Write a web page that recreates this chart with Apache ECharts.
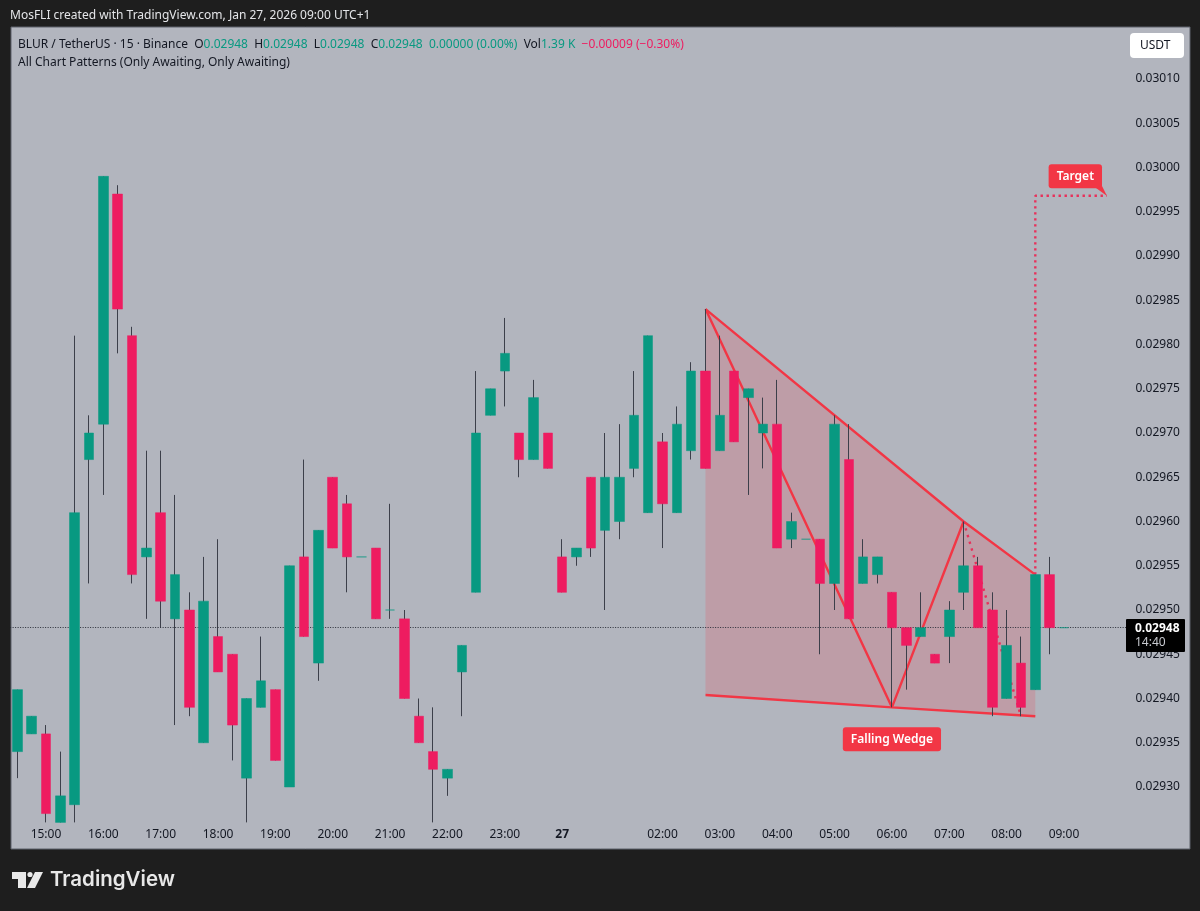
<!DOCTYPE html>
<html>
<head>
<meta charset="utf-8">
<style>html,body{margin:0;padding:0;background:#1e1e1e}#c{width:1200px;height:911px}</style>
<script src="https://cdn.jsdelivr.net/npm/echarts@6/dist/echarts.min.js"></script>
</head>
<body>
<div id="c"></div>
<script>
const categories = ['14:30','14:45','15:00','15:15','15:30','15:45','16:00','16:15','16:30','16:45','17:00','17:15','17:30','17:45','18:00','18:15','18:30','18:45','19:00','19:15','19:30','19:45','20:00','20:15','20:30','20:45','21:00','21:15','21:30','21:45','22:00','22:15','22:30','22:45','23:00','23:15','23:30','23:45','00:00','00:15','00:30','00:45','01:00','01:15','01:30','02:00','02:15','02:30','02:45','03:00','03:15','03:30','03:45','04:00','04:15','04:30','04:45','05:00','05:15','05:30','05:45','06:00','06:15','06:30','06:45','07:00','07:15','07:30','07:45','08:00','08:15','08:30','08:45','09:00','09:15','09:30','09:45','10:00'];
const tickTimes = ['15:00','16:00','17:00','18:00','19:00','20:00','21:00','22:00','23:00','00:00','02:00','03:00','04:00','05:00','06:00','07:00','08:00','09:00'];
const opens = [0.02934,0.02936,0.02936,0.02926,0.02928,0.02967,0.02971,0.02997,0.02981,0.02956,0.02961,0.02949,0.0295,0.02935,0.02947,0.02945,0.02931,0.02939,0.02941,0.0293,0.02956,0.02944,0.02965,0.02962,0.02956,0.02957,0.0295,0.02949,0.02938,0.02934,0.02931,0.02943,0.02952,0.02972,0.02977,0.0297,0.02967,0.0297,0.02956,0.02956,0.02965,0.02959,0.0296,0.02966,0.02961,0.02969,0.02961,0.02968,0.02977,0.02968,0.02977,0.02974,0.0297,0.02971,0.02958,0.02958,0.02958,0.02953,0.02967,0.02953,0.02954,0.02952,0.02948,0.02947,0.02945,0.02947,0.02952,0.02955,0.0295,0.0294,0.02944,0.02941,0.02954,0.02948];
const closes = [0.02941,0.02938,0.02927,0.02929,0.02961,0.0297,0.02999,0.02984,0.02954,0.02957,0.02951,0.02954,0.02939,0.02951,0.02943,0.02937,0.0294,0.02942,0.02933,0.02955,0.02947,0.02959,0.02957,0.02956,0.02956,0.02949,0.0295,0.0294,0.02935,0.02932,0.02932,0.02946,0.0297,0.02975,0.02979,0.02967,0.02974,0.02966,0.02952,0.02957,0.02957,0.02965,0.02965,0.02972,0.02981,0.02962,0.02971,0.02977,0.02966,0.02972,0.02969,0.02975,0.02971,0.02957,0.0296,0.02958,0.02953,0.02971,0.02949,0.02956,0.02956,0.02948,0.02946,0.02948,0.02944,0.0295,0.02955,0.02948,0.02939,0.02946,0.02939,0.02954,0.02948,0.02948];
const highs = [0.02941,0.02938,0.02937,0.02934,0.02981,0.02972,0.02999,0.02998,0.02982,0.02968,0.02968,0.02963,0.02952,0.02956,0.02958,0.02945,0.0294,0.02947,0.02941,0.02955,0.02967,0.02959,0.02965,0.02963,0.02956,0.02957,0.02962,0.0295,0.0294,0.02939,0.02932,0.02946,0.02977,0.02975,0.02983,0.0297,0.02976,0.0297,0.02958,0.02957,0.02965,0.0297,0.02971,0.02977,0.02981,0.0297,0.02973,0.02978,0.02984,0.02981,0.02977,0.02975,0.02974,0.02976,0.02961,0.02958,0.02958,0.02972,0.02971,0.02958,0.02956,0.02952,0.02948,0.02952,0.02945,0.02951,0.0296,0.02956,0.02952,0.0295,0.02947,0.02954,0.02956,0.02948];
const lows = [0.02931,0.02936,0.02926,0.02926,0.02926,0.02953,0.02963,0.02979,0.02953,0.02949,0.02948,0.02937,0.02938,0.02935,0.02943,0.02933,0.02926,0.02939,0.02933,0.0293,0.02947,0.02942,0.02957,0.02952,0.02956,0.02949,0.02949,0.0294,0.02935,0.02926,0.02929,0.02938,0.02952,0.02972,0.02973,0.02965,0.02967,0.02966,0.02952,0.02955,0.02956,0.0295,0.02958,0.02965,0.02961,0.02957,0.02961,0.02967,0.02966,0.02968,0.02969,0.02963,0.02966,0.02957,0.02957,0.02958,0.02945,0.0295,0.02949,0.02953,0.02953,0.02939,0.02941,0.02947,0.02944,0.02944,0.0295,0.02948,0.02938,0.0294,0.02938,0.02941,0.02945,0.02948];
const lastPrice = 0.02948;
const wedgeX = [48,66,71,71,61,48];
const wedgeY = [0.02984,0.0296,0.02954,0.02938,0.02939,0.029404];
const zigzagX = [48,61,66];
const zigzagY = [0.02984,0.02939,0.0296];
const projectionX = [66,70];
const projectionY = [0.0296,0.02938];
const targetX = [71,71,76];
const targetY = [0.02954,0.029968,0.029968];
const labelTexts = ['Falling Wedge','Target'];
const labelX = [61,74];
const labelY = [0.029354,0.02999];

const font = '"Noto Sans", sans-serif';
const green = '#089981', pink = '#ee1c60', red = '#f23645', ink = '#131722';
const zip = (a,b)=>a.map((v,i)=>[v,b[i]]);
const chart = echarts.init(document.getElementById('c'), null, {renderer:'canvas'});
const hexT = (t,x,y,o)=>({type:'text',z:o.z||50,style:Object.assign({x,y,text:t,fontFamily:font,fontSize:12,fill:ink,textVerticalAlign:'middle'},o)});
chart.setOption({
  animation:false,
  backgroundColor:'#1e1e1e',
  textStyle:{fontFamily:font},
  grid:{left:10.13,right:71.5,top:34.75,height:796.5,containLabel:false},
  xAxis:{type:'category',data:categories,boundaryGap:true,
    axisLine:{show:false},axisTick:{show:false},splitLine:{show:false},
    axisLabel:{interval:(i,v)=>tickTimes.includes(v),margin:-3,color:ink,fontSize:12,fontFamily:font,hideOverlap:false,
      formatter:v=>v==='00:00'?'{d|27}':v,rich:{d:{fontWeight:'bold',fontSize:12,color:ink,fontFamily:font}}}},
  yAxis:{type:'value',position:'right',min:0.02925,max:0.03015,interval:0.00005,scale:true,
    axisLine:{show:false},axisTick:{show:false},splitLine:{show:false},
    axisLabel:{margin:7,padding:[2,0,0,0],color:ink,fontSize:12,fontFamily:font,showMinLabel:false,showMaxLabel:false,formatter:v=>v.toFixed(5)}},
  series:[
    {type:'custom',name:'wedge',coordinateSystem:'cartesian2d',z:2,silent:true,clip:false,
      data:[wedgeX.map((x,i)=>i)],encode:{x:[],y:[]},
      renderItem:(p,api)=>({type:'polygon',shape:{points:wedgeX.filter((x,i)=>i!==4).map((x,i)=>{const j=i<4?i:5;return api.coord([wedgeX[j],wedgeY[j]]);})},style:{fill:'rgba(242,54,69,0.19)'}})},
    {type:'line',name:'top',z:3,silent:true,symbol:'none',data:[[wedgeX[0],wedgeY[0]],[wedgeX[1],wedgeY[1]],[wedgeX[2],wedgeY[2]]],lineStyle:{color:red,width:2.4}},
    {type:'line',name:'bottom',z:3,silent:true,symbol:'none',data:[[wedgeX[5],wedgeY[5]],[wedgeX[4],wedgeY[4]],[wedgeX[3],wedgeY[3]]],lineStyle:{color:red,width:2.4}},
    {type:'line',name:'zigzag',z:3,silent:true,symbol:'none',data:zip(zigzagX,zigzagY),lineStyle:{color:red,width:2.4}},
    {type:'line',name:'projection',z:3,silent:true,symbol:'none',data:zip(projectionX,projectionY),lineStyle:{color:'#e8305a',width:2.4,type:[2.4,4.6]}},
    {type:'line',name:'target',z:3,silent:true,symbol:'none',data:zip(targetX,targetY),lineStyle:{color:'#e8305a',width:2.4,type:[2.4,3.6]}},
    {type:'candlestick',name:'wicks',z:4,silent:true,barWidth:1,
      data:opens.map((o,i)=>[o,closes[i],lows[i],highs[i]]),
      itemStyle:{color:'#3c3f4a',color0:'#3c3f4a',borderColor:'#3c3f4a',borderColor0:'#3c3f4a',borderColorDoji:'#3c3f4a',borderWidth:1},
      markLine:{silent:true,symbol:'none',precision:5,animation:false,data:[{yAxis:lastPrice}],label:{show:false},lineStyle:{color:'#2a2e39',width:1,type:[1,1.5]}}},
    {type:'candlestick',name:'bodies',z:5,silent:true,barWidth:10,
      data:opens.map((o,i)=>[o,closes[i],Math.min(o,closes[i]),Math.max(o,closes[i])]),
      itemStyle:{color:green,color0:pink,borderColor:green,borderColor0:pink,borderColorDoji:green,borderWidth:0.5}},
    {type:'scatter',name:'labels',z:6,silent:true,symbolSize:0,itemStyle:{opacity:1},
      data:labelTexts.map((t,i)=>({value:[labelX[i],labelY[i]],label:{formatter:t,offset:i===1?[-3,0]:[0,0]}})),
      label:{show:true,position:'inside',color:'#fff',opacity:1,fontFamily:font,fontSize:12,fontWeight:600,backgroundColor:red,borderRadius:3,padding:[6,8,6,8]}}
  ],
  graphic:[
    {type:'rect',z:-1,zlevel:0,shape:{x:11,y:27,width:1179,height:822},style:{fill:'#b2b5be',stroke:'#5d606b',lineWidth:1},silent:true},
    hexT('MosFLI created with TradingView.com, Jan 27, 2026 09:00 UTC+1',10,15.5,{fill:'#e4e5e8'}),
    {type:'text',z:50,style:{x:18,y:45,textVerticalAlign:'middle',fontFamily:font,fontSize:12,fill:ink,
      text:'BLUR / TetherUS · 15 · Binance  O{g|0.02948}  H{g|0.02948}  L{g|0.02948}  C{g|0.02948}  {g|0.00000 (0.00%)}  Vol{g|1.39 K}  {p|−0.00009 (−0.30%)}',
      rich:{g:{fill:green,fontFamily:font,fontSize:12},p:{fill:pink,fontFamily:font,fontSize:12}}}},
    hexT('All Chart Patterns (Only Awaiting, Only Awaiting)',18,62.5,{}),
    {type:'rect',z:50,shape:{x:1130,y:33,width:54,height:25,r:4},style:{fill:'#ffffff'}},
    hexT('USDT',1140,45.5,{}),
    {type:'rect',z:60,shape:{x:1126,y:619,width:59,height:33,r:1},style:{fill:'#000000'}},
    hexT('0.02948',1135,629,{fill:'#ffffff',fontWeight:'bold',z:61}),
    hexT('14:40',1135,643,{fill:'#c8cad0',z:61}),
    {type:'polygon',z:50,shape:{points:[[1096,188],[1107,196],[1102,186]]},style:{fill:red}},
    {type:'polygon',z:50,shape:{points:[[12,872],[26,872],[26,888],[18,888],[18,879],[12,879]]},style:{fill:'#e8e8e8'}},
    {type:'circle',z:50,shape:{cx:30,cy:874.5,r:2.6},style:{fill:'#e8e8e8'}},
    {type:'polygon',z:50,shape:{points:[[35,872],[43,872],[35,888],[27,888]]},style:{fill:'#e8e8e8'}},
    hexT('TradingView',50,880,{fill:'#e8e8e8',fontSize:20.5,fontWeight:600,fontFamily:'Inter, "Noto Sans", sans-serif'})
  ]
});
</script>
</body>
</html>
